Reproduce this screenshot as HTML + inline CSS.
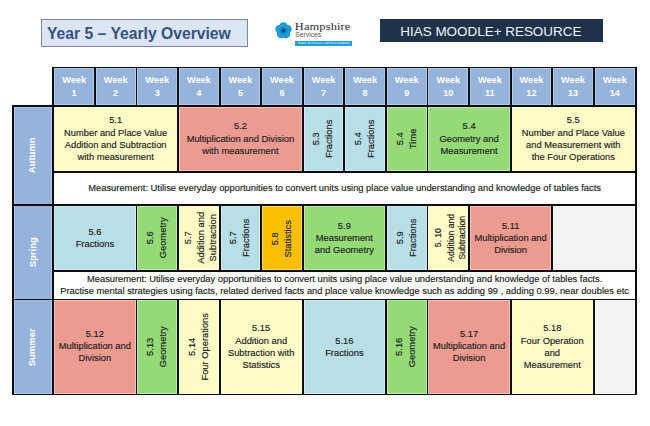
<!DOCTYPE html>
<html><head><meta charset="utf-8"><style>
html,body{margin:0;padding:0;background:#fff;width:650px;height:426px;overflow:hidden;position:relative;font-family:"Liberation Sans",sans-serif;}
.a{position:absolute;box-sizing:border-box;}
.t{display:flex;align-items:center;justify-content:center;text-align:center;font-size:9.35px;-webkit-text-stroke:0.15px #202020;line-height:12.3px;color:#202020;white-space:nowrap;}
.ts{font-size:8.6px;line-height:11.3px;}
.wk{display:flex;align-items:center;justify-content:center;text-align:center;font-size:9.2px;line-height:12.7px;color:#fff;font-weight:bold;}
.ss{display:flex;align-items:center;justify-content:center;font-size:9.5px;color:#fff;font-weight:bold;}
#title{position:absolute;left:41px;top:19px;width:207px;height:28px;box-sizing:border-box;background:#DCE5F3;border:1px solid #7d8796;}
#title span{position:absolute;left:5px;top:5.2px;font-size:15.7px;font-weight:bold;color:#34527F;white-space:nowrap;}
#hias{position:absolute;left:380px;top:19px;width:223px;height:23px;background:#1F3249;}
#hias span{position:absolute;left:20.3px;top:4.5px;font-size:13.45px;color:#F2F5F8;white-space:nowrap;}
</style></head><body>
<div id="title"><span>Year 5 – Yearly Overview</span></div>
<div id="logo">
<svg class="a" style="left:273.6px;top:21px" width="19" height="19" viewBox="0 0 19 19">
<defs><radialGradient id="fc" cx="50%" cy="50%" r="50%"><stop offset="0" stop-color="#062e5c"/><stop offset="0.35" stop-color="#0d6aa8"/><stop offset="1" stop-color="#1b98d4" stop-opacity="0"/></radialGradient></defs>
<g fill="#1990cc"><circle cx="9.5" cy="5.4" r="4.2"/><circle cx="13.4" cy="8.3" r="4.2"/><circle cx="11.9" cy="13" r="4.2"/><circle cx="7.1" cy="13" r="4.2"/><circle cx="5.6" cy="8.3" r="4.2"/><circle cx="9.5" cy="9.8" r="5"/></g>
<g fill="#1d9ed8"><circle cx="9.5" cy="5.6" r="3.5"/><circle cx="13.1" cy="8.4" r="3.5"/><circle cx="11.7" cy="12.7" r="3.5"/><circle cx="7.3" cy="12.7" r="3.5"/><circle cx="5.9" cy="8.4" r="3.5"/></g>
<circle cx="9.5" cy="9.6" r="5" fill="url(#fc)"/>
</svg>
<div class="a" style="left:294.8px;top:19.6px;font-family:'Liberation Serif',serif;font-size:12.4px;line-height:14px;letter-spacing:0.15px;color:#2e2e40;white-space:nowrap;transform:scaleY(0.9);transform-origin:0 0;">Hampshire</div>
<div class="a" style="left:295.2px;top:30.6px;font-size:6.8px;color:#5a5a4a;white-space:nowrap;">Services</div>
<div class="a" style="left:295px;top:40.5px;width:56.5px;height:5.3px;background:#25a0d6;"></div>
<div class="a" style="left:297.5px;top:41.6px;width:52px;overflow:hidden;font-size:3.3px;line-height:3.5px;font-weight:bold;color:#bfe6f6;white-space:nowrap;letter-spacing:0.25px;">HIAS SCHOOL IMPROVEMENT</div>
</div>
<div id="hias"><span>HIAS MOODLE+ RESOURCE</span></div>
<div class="a" style="left:54.20px;top:68.30px;width:39.78px;height:36.60px;background:#95B3DB;box-shadow:inset 0 0 0 1px rgba(255,255,255,0.3);"></div>
<div class="a wk" style="left:53.30px;top:67.40px;width:41.58px;height:38.40px;"><div>Week<br>1</div></div>
<div class="a" style="left:95.78px;top:68.30px;width:39.78px;height:36.60px;background:#95B3DB;box-shadow:inset 0 0 0 1px rgba(255,255,255,0.3);"></div>
<div class="a wk" style="left:94.88px;top:67.40px;width:41.58px;height:38.40px;"><div>Week<br>2</div></div>
<div class="a" style="left:137.36px;top:68.30px;width:39.78px;height:36.60px;background:#95B3DB;box-shadow:inset 0 0 0 1px rgba(255,255,255,0.3);"></div>
<div class="a wk" style="left:136.46px;top:67.40px;width:41.58px;height:38.40px;"><div>Week<br>3</div></div>
<div class="a" style="left:178.94px;top:68.30px;width:39.78px;height:36.60px;background:#95B3DB;box-shadow:inset 0 0 0 1px rgba(255,255,255,0.3);"></div>
<div class="a wk" style="left:178.04px;top:67.40px;width:41.58px;height:38.40px;"><div>Week<br>4</div></div>
<div class="a" style="left:220.52px;top:68.30px;width:39.78px;height:36.60px;background:#95B3DB;box-shadow:inset 0 0 0 1px rgba(255,255,255,0.3);"></div>
<div class="a wk" style="left:219.62px;top:67.40px;width:41.58px;height:38.40px;"><div>Week<br>5</div></div>
<div class="a" style="left:262.10px;top:68.30px;width:39.78px;height:36.60px;background:#95B3DB;box-shadow:inset 0 0 0 1px rgba(255,255,255,0.3);"></div>
<div class="a wk" style="left:261.20px;top:67.40px;width:41.58px;height:38.40px;"><div>Week<br>6</div></div>
<div class="a" style="left:303.68px;top:68.30px;width:39.78px;height:36.60px;background:#95B3DB;box-shadow:inset 0 0 0 1px rgba(255,255,255,0.3);"></div>
<div class="a wk" style="left:302.78px;top:67.40px;width:41.58px;height:38.40px;"><div>Week<br>7</div></div>
<div class="a" style="left:345.26px;top:68.30px;width:39.78px;height:36.60px;background:#95B3DB;box-shadow:inset 0 0 0 1px rgba(255,255,255,0.3);"></div>
<div class="a wk" style="left:344.36px;top:67.40px;width:41.58px;height:38.40px;"><div>Week<br>8</div></div>
<div class="a" style="left:386.84px;top:68.30px;width:39.78px;height:36.60px;background:#95B3DB;box-shadow:inset 0 0 0 1px rgba(255,255,255,0.3);"></div>
<div class="a wk" style="left:385.94px;top:67.40px;width:41.58px;height:38.40px;"><div>Week<br>9</div></div>
<div class="a" style="left:428.42px;top:68.30px;width:39.78px;height:36.60px;background:#95B3DB;box-shadow:inset 0 0 0 1px rgba(255,255,255,0.3);"></div>
<div class="a wk" style="left:427.52px;top:67.40px;width:41.58px;height:38.40px;"><div>Week<br>10</div></div>
<div class="a" style="left:470.00px;top:68.30px;width:39.78px;height:36.60px;background:#95B3DB;box-shadow:inset 0 0 0 1px rgba(255,255,255,0.3);"></div>
<div class="a wk" style="left:469.10px;top:67.40px;width:41.58px;height:38.40px;"><div>Week<br>11</div></div>
<div class="a" style="left:511.58px;top:68.30px;width:39.78px;height:36.60px;background:#95B3DB;box-shadow:inset 0 0 0 1px rgba(255,255,255,0.3);"></div>
<div class="a wk" style="left:510.68px;top:67.40px;width:41.58px;height:38.40px;"><div>Week<br>12</div></div>
<div class="a" style="left:553.16px;top:68.30px;width:39.78px;height:36.60px;background:#95B3DB;box-shadow:inset 0 0 0 1px rgba(255,255,255,0.3);"></div>
<div class="a wk" style="left:552.26px;top:67.40px;width:41.58px;height:38.40px;"><div>Week<br>13</div></div>
<div class="a" style="left:594.74px;top:68.30px;width:40.26px;height:36.60px;background:#95B3DB;box-shadow:inset 0 0 0 1px rgba(255,255,255,0.3);"></div>
<div class="a wk" style="left:593.84px;top:67.40px;width:42.06px;height:38.40px;"><div>Week<br>14</div></div>
<div class="a" style="left:13.60px;top:106.70px;width:38.80px;height:287.00px;background:#95B3DB;box-shadow:inset 0 0 0 1px rgba(255,255,255,0.3);"></div>
<div class="a ss" style="left:-17.80px;top:135.10px;width:99.20px;height:40.60px;transform:rotate(-90deg);"><div>Autumn</div></div>
<div class="a ss" style="left:-15.45px;top:231.95px;width:94.50px;height:40.60px;transform:rotate(-90deg);"><div>Spring</div></div>
<div class="a ss" style="left:-16.35px;top:326.75px;width:95.10px;height:40.60px;transform:rotate(-90deg);"><div>Summer</div></div>
<div class="a" style="left:54.20px;top:106.70px;width:122.94px;height:64.40px;background:#FFFCC6;box-shadow:inset 0 0 0 1px rgba(255,255,255,0.4);"></div>
<div class="a t" style="left:53.30px;top:105.80px;width:124.74px;height:66.20px;"><div>5.1<br>Number and Place Value<br>Addition and Subtraction<br>with measurement</div></div>
<div class="a" style="left:178.94px;top:106.70px;width:122.94px;height:64.40px;background:#EC9B90;box-shadow:inset 0 0 0 1px rgba(255,255,255,0.4);"></div>
<div class="a t" style="left:178.04px;top:105.80px;width:124.74px;height:66.20px;"><div>5.2<br>Multiplication and Division<br>with measurement</div></div>
<div class="a" style="left:303.68px;top:106.70px;width:39.78px;height:64.40px;background:#B8DEE8;box-shadow:inset 0 0 0 1px rgba(255,255,255,0.4);"></div>
<div class="a t" style="left:290.47px;top:118.11px;width:66.20px;height:41.58px;transform:rotate(-90deg);"><div>5.3<br>Fractions</div></div>
<div class="a" style="left:345.26px;top:106.70px;width:39.78px;height:64.40px;background:#B8DEE8;box-shadow:inset 0 0 0 1px rgba(255,255,255,0.4);"></div>
<div class="a t" style="left:332.05px;top:118.11px;width:66.20px;height:41.58px;transform:rotate(-90deg);"><div>5.4<br>Fractions</div></div>
<div class="a" style="left:386.84px;top:106.70px;width:39.78px;height:64.40px;background:#94DB78;box-shadow:inset 0 0 0 1px rgba(255,255,255,0.4);"></div>
<div class="a t" style="left:373.63px;top:118.11px;width:66.20px;height:41.58px;transform:rotate(-90deg);"><div>5.4<br>Time</div></div>
<div class="a" style="left:428.42px;top:106.70px;width:81.36px;height:64.40px;background:#94DB78;box-shadow:inset 0 0 0 1px rgba(255,255,255,0.4);"></div>
<div class="a t" style="left:427.52px;top:105.80px;width:83.16px;height:66.20px;"><div>5.4<br>Geometry and<br>Measurement</div></div>
<div class="a" style="left:511.58px;top:106.70px;width:123.42px;height:64.40px;background:#FFFCC6;box-shadow:inset 0 0 0 1px rgba(255,255,255,0.4);"></div>
<div class="a t" style="left:510.68px;top:105.80px;width:125.22px;height:66.20px;"><div>5.5<br>Number and Place Value<br>and Measurement with<br>the Four Operations</div></div>
<div class="a" style="left:53.30px;top:172.00px;width:582.60px;height:33.00px;background:#FFFFFF;"></div>
<div class="a t" style="left:53.30px;top:172.00px;width:582.60px;height:33.00px;"><div>Measurement: Utilise everyday opportunities to convert units using place value understanding and knowledge of tables facts</div></div>
<div class="a" style="left:54.20px;top:205.90px;width:81.36px;height:64.50px;background:#B8DEE8;box-shadow:inset 0 0 0 1px rgba(255,255,255,0.4);"></div>
<div class="a t" style="left:53.30px;top:205.00px;width:83.16px;height:66.30px;"><div>5.6<br>Fractions</div></div>
<div class="a" style="left:137.36px;top:205.90px;width:39.78px;height:64.50px;background:#94DB78;box-shadow:inset 0 0 0 1px rgba(255,255,255,0.4);"></div>
<div class="a t" style="left:124.10px;top:217.36px;width:66.30px;height:41.58px;transform:rotate(-90deg);"><div>5.6<br>Geometry</div></div>
<div class="a" style="left:178.94px;top:205.90px;width:39.78px;height:64.50px;background:#FFFCC6;box-shadow:inset 0 0 0 1px rgba(255,255,255,0.4);"></div>
<div class="a t" style="left:167.68px;top:217.36px;width:66.30px;height:41.58px;transform:rotate(-90deg);"><div>5.7<br>Addition and<br>Subtraction</div></div>
<div class="a" style="left:220.52px;top:205.90px;width:39.78px;height:64.50px;background:#B8DEE8;box-shadow:inset 0 0 0 1px rgba(255,255,255,0.4);"></div>
<div class="a t" style="left:207.26px;top:217.36px;width:66.30px;height:41.58px;transform:rotate(-90deg);"><div>5.7<br>Fractions</div></div>
<div class="a" style="left:262.10px;top:205.90px;width:39.78px;height:64.50px;background:#FAC000;box-shadow:inset 0 0 0 1px rgba(255,255,255,0.4);"></div>
<div class="a t" style="left:248.84px;top:218.06px;width:66.30px;height:41.58px;transform:rotate(-90deg);"><div>5.8<br>Statistics</div></div>
<div class="a" style="left:303.68px;top:205.90px;width:81.36px;height:64.50px;background:#94DB78;box-shadow:inset 0 0 0 1px rgba(255,255,255,0.4);"></div>
<div class="a t" style="left:302.78px;top:205.00px;width:83.16px;height:66.30px;"><div>5.9<br>Measurement<br>and Geometry</div></div>
<div class="a" style="left:386.84px;top:205.90px;width:39.78px;height:64.50px;background:#B8DEE8;box-shadow:inset 0 0 0 1px rgba(255,255,255,0.4);"></div>
<div class="a t" style="left:373.58px;top:217.36px;width:66.30px;height:41.58px;transform:rotate(-90deg);"><div>5.9<br>Fractions</div></div>
<div class="a" style="left:428.42px;top:205.90px;width:39.78px;height:64.50px;background:#FFFCC6;box-shadow:inset 0 0 0 1px rgba(255,255,255,0.4);"></div>
<div class="a t ts" style="left:417.66px;top:217.36px;width:66.30px;height:41.58px;transform:rotate(-90deg);"><div><span style="display:block;margin-bottom:1.4px">5. 10</span>Addition and<br>Subtraction</div></div>
<div class="a" style="left:470.00px;top:205.90px;width:81.36px;height:64.50px;background:#EC9B90;box-shadow:inset 0 0 0 1px rgba(255,255,255,0.4);"></div>
<div class="a t" style="left:469.10px;top:205.00px;width:83.16px;height:66.30px;"><div>5.11<br>Multiplication and<br>Division</div></div>
<div class="a" style="left:553.16px;top:205.90px;width:81.84px;height:64.50px;background:#F2F2F3;box-shadow:inset 0 0 0 1px rgba(255,255,255,0.4);"></div>
<div class="a" style="left:53.30px;top:271.30px;width:582.60px;height:28.20px;background:#FFFFFF;"></div>
<div class="a t" style="left:53.30px;top:271.30px;width:582.60px;height:28.20px;"><div>Measurement: Utilise everyday opportunities to convert units using place value understanding and knowledge of tables facts.<br>Practise mental strategies using facts, related derived facts and place value knowledge such as adding 99 , adding 0.99, near doubles etc</div></div>
<div class="a" style="left:54.20px;top:300.40px;width:81.36px;height:93.30px;background:#EC9B90;box-shadow:inset 0 0 0 1px rgba(255,255,255,0.4);"></div>
<div class="a t" style="left:53.30px;top:298.50px;width:83.16px;height:95.10px;"><div>5.12<br>Multiplication and<br>Division</div></div>
<div class="a" style="left:137.36px;top:300.40px;width:39.78px;height:93.30px;background:#94DB78;box-shadow:inset 0 0 0 1px rgba(255,255,255,0.4);"></div>
<div class="a t" style="left:108.70px;top:326.26px;width:95.10px;height:41.58px;transform:rotate(-90deg);"><div>5.13<br>Geometry</div></div>
<div class="a" style="left:178.94px;top:300.40px;width:39.78px;height:93.30px;background:#FFFCC6;box-shadow:inset 0 0 0 1px rgba(255,255,255,0.4);"></div>
<div class="a t" style="left:150.58px;top:326.26px;width:95.10px;height:41.58px;transform:rotate(-90deg);"><div>5.14<br>Four Operations</div></div>
<div class="a" style="left:220.52px;top:300.40px;width:81.36px;height:93.30px;background:#FFFCC6;box-shadow:inset 0 0 0 1px rgba(255,255,255,0.4);"></div>
<div class="a t" style="left:219.62px;top:299.50px;width:83.16px;height:95.10px;"><div>5.15<br>Addition and<br>Subtraction with<br>Statistics</div></div>
<div class="a" style="left:303.68px;top:300.40px;width:81.36px;height:93.30px;background:#B8DEE8;box-shadow:inset 0 0 0 1px rgba(255,255,255,0.4);"></div>
<div class="a t" style="left:302.78px;top:299.50px;width:83.16px;height:95.10px;"><div>5.16<br>Fractions</div></div>
<div class="a" style="left:386.84px;top:300.40px;width:39.78px;height:93.30px;background:#94DB78;box-shadow:inset 0 0 0 1px rgba(255,255,255,0.4);"></div>
<div class="a t" style="left:358.18px;top:326.26px;width:95.10px;height:41.58px;transform:rotate(-90deg);"><div>5.16<br>Geometry</div></div>
<div class="a" style="left:428.42px;top:300.40px;width:81.36px;height:93.30px;background:#EC9B90;box-shadow:inset 0 0 0 1px rgba(255,255,255,0.4);"></div>
<div class="a t" style="left:427.52px;top:298.50px;width:83.16px;height:95.10px;"><div>5.17<br>Multiplication and<br>Division</div></div>
<div class="a" style="left:511.58px;top:300.40px;width:81.36px;height:93.30px;background:#FFFCC6;box-shadow:inset 0 0 0 1px rgba(255,255,255,0.4);"></div>
<div class="a t" style="left:510.68px;top:299.50px;width:83.16px;height:95.10px;"><div>5.18<br>Four Operation<br>and<br>Measurement</div></div>
<div class="a" style="left:594.74px;top:300.40px;width:40.26px;height:93.30px;background:#F2F2F3;box-shadow:inset 0 0 0 1px rgba(255,255,255,0.4);"></div>
<div class="a" style="left:52.40px;top:66.50px;width:1.80px;height:40.20px;background:#0d0d12;"></div>
<div class="a" style="left:93.98px;top:66.50px;width:1.80px;height:40.20px;background:#0d0d12;"></div>
<div class="a" style="left:135.56px;top:66.50px;width:1.80px;height:40.20px;background:#0d0d12;"></div>
<div class="a" style="left:177.14px;top:66.50px;width:1.80px;height:40.20px;background:#0d0d12;"></div>
<div class="a" style="left:218.72px;top:66.50px;width:1.80px;height:40.20px;background:#0d0d12;"></div>
<div class="a" style="left:260.30px;top:66.50px;width:1.80px;height:40.20px;background:#0d0d12;"></div>
<div class="a" style="left:301.88px;top:66.50px;width:1.80px;height:40.20px;background:#0d0d12;"></div>
<div class="a" style="left:343.46px;top:66.50px;width:1.80px;height:40.20px;background:#0d0d12;"></div>
<div class="a" style="left:385.04px;top:66.50px;width:1.80px;height:40.20px;background:#0d0d12;"></div>
<div class="a" style="left:426.62px;top:66.50px;width:1.80px;height:40.20px;background:#0d0d12;"></div>
<div class="a" style="left:468.20px;top:66.50px;width:1.80px;height:40.20px;background:#0d0d12;"></div>
<div class="a" style="left:509.78px;top:66.50px;width:1.80px;height:40.20px;background:#0d0d12;"></div>
<div class="a" style="left:551.36px;top:66.50px;width:1.80px;height:40.20px;background:#0d0d12;"></div>
<div class="a" style="left:592.94px;top:66.50px;width:1.80px;height:40.20px;background:#0d0d12;"></div>
<div class="a" style="left:635.00px;top:66.50px;width:1.80px;height:40.20px;background:#0d0d12;"></div>
<div class="a" style="left:11.80px;top:104.90px;width:1.80px;height:290.60px;background:#0d0d12;"></div>
<div class="a" style="left:52.40px;top:104.90px;width:1.80px;height:290.60px;background:#0d0d12;"></div>
<div class="a" style="left:635.00px;top:104.90px;width:1.80px;height:290.60px;background:#0d0d12;"></div>
<div class="a" style="left:177.14px;top:104.90px;width:1.80px;height:68.00px;background:#0d0d12;"></div>
<div class="a" style="left:301.88px;top:104.90px;width:1.80px;height:68.00px;background:#0d0d12;"></div>
<div class="a" style="left:343.46px;top:104.90px;width:1.80px;height:68.00px;background:#0d0d12;"></div>
<div class="a" style="left:385.04px;top:104.90px;width:1.80px;height:68.00px;background:#0d0d12;"></div>
<div class="a" style="left:426.62px;top:104.90px;width:1.80px;height:68.00px;background:#0d0d12;"></div>
<div class="a" style="left:509.78px;top:104.90px;width:1.80px;height:68.00px;background:#0d0d12;"></div>
<div class="a" style="left:135.56px;top:204.10px;width:1.80px;height:68.10px;background:#0d0d12;"></div>
<div class="a" style="left:177.14px;top:204.10px;width:1.80px;height:68.10px;background:#0d0d12;"></div>
<div class="a" style="left:218.72px;top:204.10px;width:1.80px;height:68.10px;background:#0d0d12;"></div>
<div class="a" style="left:260.30px;top:204.10px;width:1.80px;height:68.10px;background:#0d0d12;"></div>
<div class="a" style="left:301.88px;top:204.10px;width:1.80px;height:68.10px;background:#0d0d12;"></div>
<div class="a" style="left:385.04px;top:204.10px;width:1.80px;height:68.10px;background:#0d0d12;"></div>
<div class="a" style="left:426.62px;top:204.10px;width:1.80px;height:68.10px;background:#0d0d12;"></div>
<div class="a" style="left:468.20px;top:204.10px;width:1.80px;height:68.10px;background:#0d0d12;"></div>
<div class="a" style="left:551.36px;top:204.10px;width:1.80px;height:68.10px;background:#0d0d12;"></div>
<div class="a" style="left:135.56px;top:298.60px;width:1.80px;height:96.90px;background:#0d0d12;"></div>
<div class="a" style="left:177.14px;top:298.60px;width:1.80px;height:96.90px;background:#0d0d12;"></div>
<div class="a" style="left:218.72px;top:298.60px;width:1.80px;height:96.90px;background:#0d0d12;"></div>
<div class="a" style="left:301.88px;top:298.60px;width:1.80px;height:96.90px;background:#0d0d12;"></div>
<div class="a" style="left:385.04px;top:298.60px;width:1.80px;height:96.90px;background:#0d0d12;"></div>
<div class="a" style="left:426.62px;top:298.60px;width:1.80px;height:96.90px;background:#0d0d12;"></div>
<div class="a" style="left:509.78px;top:298.60px;width:1.80px;height:96.90px;background:#0d0d12;"></div>
<div class="a" style="left:592.94px;top:298.60px;width:1.80px;height:96.90px;background:#0d0d12;"></div>
<div class="a" style="left:52.40px;top:66.50px;width:584.40px;height:1.80px;background:#0d0d12;"></div>
<div class="a" style="left:11.80px;top:104.90px;width:625.00px;height:1.80px;background:#0d0d12;"></div>
<div class="a" style="left:52.40px;top:171.10px;width:584.40px;height:1.80px;background:#0d0d12;"></div>
<div class="a" style="left:11.80px;top:204.10px;width:625.00px;height:1.80px;background:#0d0d12;"></div>
<div class="a" style="left:52.40px;top:270.40px;width:584.40px;height:1.80px;background:#0d0d12;"></div>
<div class="a" style="left:11.80px;top:298.60px;width:625.00px;height:1.80px;background:#0d0d12;"></div>
<div class="a" style="left:11.80px;top:393.70px;width:625.00px;height:1.80px;background:#0d0d12;"></div>
</body></html>
